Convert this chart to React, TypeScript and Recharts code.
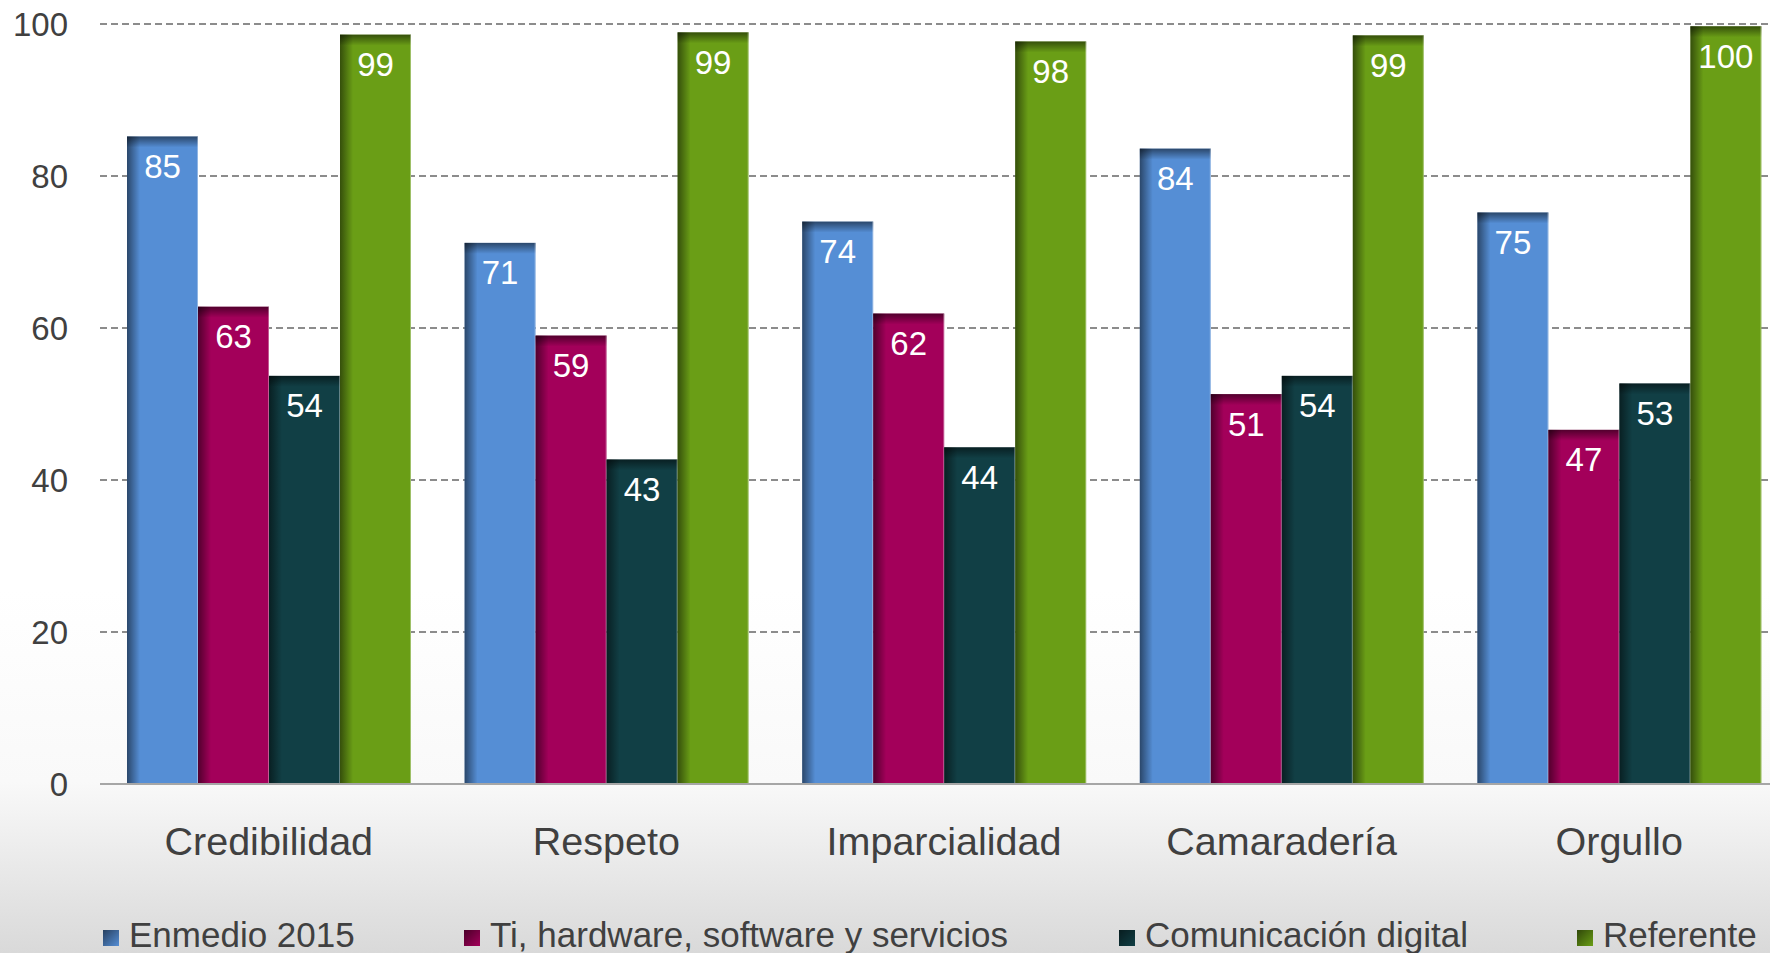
import React from 'react';
import { BarChart, Bar, XAxis, YAxis, CartesianGrid, LabelList } from 'recharts';

const categories = ['Credibilidad', 'Respeto', 'Imparcialidad', 'Camaradería', 'Orgullo'];
const enmedio2015 = [85.2, 71.2, 74.0, 83.6, 75.2];
const tiHardware = [62.8, 59.0, 61.9, 51.3, 46.6];
const comunicacionDigital = [53.7, 42.7, 44.3, 53.7, 52.7];
const referente = [98.6, 98.9, 97.7, 98.5, 99.7];
const yTicks = [0, 20, 40, 60, 80, 100];
const seriesNames = ['Enmedio 2015', 'Ti, hardware, software y servicios', 'Comunicación digital', 'Referente'];
const seriesKeys = ['enmedio', 'ti', 'com', 'ref'];
const seriesColors = ['#558ED5', '#A3005A', '#113F45', '#6A9E16'];

const data = categories.map((name, i) => ({
  name,
  enmedio: enmedio2015[i],
  ti: tiHardware[i],
  com: comunicacionDigital[i],
  ref: referente[i],
}));

const legendLefts = [103, 464, 1119, 1577];

const makeShape = (color: string) => (props: any) => {
  const { x, y, width, height } = props;
  if (!height || height <= 0) return null;
  return (
    <g>
      <rect x={x} y={y} width={width} height={height} fill={color} />
      <rect x={x} y={y} width={Math.min(13, width)} height={height} fill="url(#leftShade)" />
      <rect x={x} y={y} width={width} height={Math.min(11, height)} fill="url(#topShade)" />
      <rect x={x + width - 1} y={y} width={1} height={height} fill="rgba(255,255,255,0.35)" />
    </g>
  );
};

const fmt = (v: any) => Math.round(Number(v));

export default function App() {
  return (
    <div
      style={{
        position: 'fixed',
        left: 0,
        top: 0,
        width: 1770,
        height: 953,
        overflow: 'hidden',
        background: 'linear-gradient(180deg, #ffffff 0%, #ffffff 62%, #f9f9f9 82%, #d9d9d9 100%)',
        fontFamily: '"Liberation Sans", Arial, sans-serif',
      }}
    >
      <BarChart
        width={1800}
        height={953}
        data={data}
        margin={{ top: 24, right: 12, bottom: 0, left: 0 }}
        barCategoryGap={27}
        barGap={0}
      >
        <defs>
          <linearGradient id="leftShade" x1="0" y1="0" x2="1" y2="0">
            <stop offset="0%" stopColor="#000" stopOpacity={0.5} />
            <stop offset="100%" stopColor="#000" stopOpacity={0} />
          </linearGradient>
          <linearGradient id="topShade" x1="0" y1="0" x2="0" y2="1">
            <stop offset="0%" stopColor="#000" stopOpacity={0.5} />
            <stop offset="100%" stopColor="#000" stopOpacity={0} />
          </linearGradient>
        </defs>
        <CartesianGrid vertical={false} stroke="#8c8c8c" strokeWidth={2} strokeDasharray="7 4" />
        <XAxis
          dataKey="name"
          height={169}
          tickLine={false}
          tickSize={0}
          tickMargin={43}
          axisLine={{ stroke: '#a6a6a6', strokeWidth: 2 }}
          tick={{ fontSize: 39.5, fill: '#404040' }}
          interval={0}
        />
        <YAxis
          width={100}
          domain={[0, 100]}
          ticks={yTicks}
          tickLine={false}
          tickSize={0}
          tickMargin={32}
          axisLine={false}
          tick={{ fontSize: 33, fill: '#404040' }}
        />
        {seriesKeys.map((k, i) => (
          <Bar key={k} dataKey={k} name={seriesNames[i]} fill={seriesColors[i]} isAnimationActive={false} shape={makeShape(seriesColors[i])}>
            <LabelList dataKey={k} position="insideTop" offset={18} fill="#ffffff" fontSize={33} formatter={fmt} />
          </Bar>
        ))}
      </BarChart>
      {seriesNames.map((n, i) => (
        <div
          key={n}
          style={{
            position: 'absolute',
            left: legendLefts[i],
            top: 918,
            height: 34,
            lineHeight: '34px',
            fontSize: 35,
            color: '#404040',
            whiteSpace: 'nowrap',
            display: 'flex',
            alignItems: 'center',
          }}
        >
          <svg width={16} height={16} style={{ marginRight: 10, marginTop: 6 }}>
            <defs>
              <linearGradient id={`lg${i}`} x1="0" y1="0" x2="1" y2="1">
                <stop offset="0%" stopColor="#000" stopOpacity={0.55} />
                <stop offset="100%" stopColor="#000" stopOpacity={0} />
              </linearGradient>
            </defs>
            <rect x={0} y={0} width={16} height={16} fill={seriesColors[i]} />
            <rect x={0} y={0} width={16} height={16} fill={`url(#lg${i})`} />
          </svg>
          <span>{n}</span>
        </div>
      ))}
    </div>
  );
}
